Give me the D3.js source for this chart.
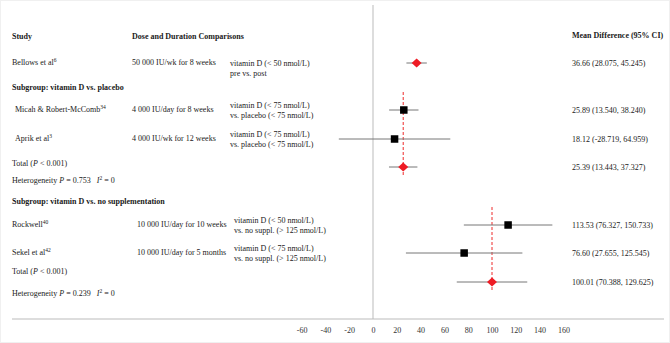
<!DOCTYPE html>
<html>
<head>
<meta charset="utf-8">
<script src="https://cdn.jsdelivr.net/npm/d3@7"></script>
<style>
  html, body { margin: 0; padding: 0; background: #fff; }
  svg { display: block; font-family: "Liberation Serif", "Times New Roman", serif; -webkit-font-smoothing: antialiased; }
  .txt { font-size: 8px; fill: #1a1a1a; }
  .bold { font-weight: bold; }
</style>
</head>
<body>
<div id="chart"></div>
<script>
// studies
var studies = ["Bellows et al", "Micah & Robert-McComb", "Aprik et al", "Rockwell", "Sekel et al"];
var refs = ["6", "34", "3", "40", "42"];
var doses = ["50 000 IU/wk for 8 weeks", "4 000 IU/day for 8 weeks", "4 000 IU/wk for 12 weeks",
  "10 000 IU/day for 10 weeks", "10 000 IU/day for 5 months"];
var compA = ["vitamin D (< 50 nmol/L)", "vitamin D (< 75 nmol/L)", "vitamin D (< 75 nmol/L)",
  "vitamin D (< 50 nmol/L)", "vitamin D (< 75 nmol/L)"];
var compB = ["pre vs. post", "vs. placebo (< 75 nmol/L)", "vs. placebo (< 75 nmol/L)",
  "vs. no suppl. (> 125 nmol/L)", "vs. no suppl. (> 125 nmol/L)"];
var means = [36.66, 25.89, 18.12, 113.53, 76.60];
var lower = [28.075, 13.540, -28.719, 76.327, 27.655];
var upper = [45.245, 38.240, 64.959, 150.733, 125.545];
var markers = ["diamond", "square", "square", "square", "square"];

// subgroups
var subgroups = ["Subgroup: vitamin D vs. placebo", "Subgroup: vitamin D vs. no supplementation"];
var totalMeans = [25.39, 100.01];
var totalLower = [13.443, 70.388];
var totalUpper = [37.327, 129.625];
var totalP = ["< 0.001", "< 0.001"];
var hetP = ["0.753", "0.239"];
var hetI2 = ["0", "0"];

var ticks = [-60, -40, -20, 0, 20, 40, 60, 80, 100, 120, 140, 160];

// layout
var W = 670, H = 343;
var studyY = [63, 110, 139, 225, 253];
var studyX = [12, 15, 15, 12, 12];
var doseX = [132, 132, 132, 137, 137];
var compX = [230, 230, 230, 234, 234];
var subY = [87, 201];
var totalY = [167, 282];
var totalTxtY = [163, 271];
var hetTxtY = [180, 293];
var sgStudies = [[1, 2], [3, 4]];
var axisY = 319;

var svg = d3.select("#chart").append("svg")
  .attr("width", W).attr("height", H);

var x = d3.scaleLinear().domain([-60, 160]).range([301.6, 563.4]);

// zero line
svg.append("line")
  .attr("x1", x(0)).attr("x2", x(0))
  .attr("y1", 5).attr("y2", axisY)
  .attr("stroke", "#bbb").attr("stroke-width", 1);

// bottom axis line
svg.append("line")
  .attr("x1", 12).attr("x2", 664)
  .attr("y1", axisY).attr("y2", axisY)
  .attr("stroke", "#bbb").attr("stroke-width", 1);

var ax = svg.append("g")
  .attr("transform", "translate(0," + axisY + ")")
  .call(d3.axisBottom(x).tickValues(ticks).tickSize(0).tickPadding(8).tickFormat(function (d) { return String(d); }));
ax.select(".domain").remove();
ax.selectAll("text")
  .attr("font-family", "Liberation Serif, serif")
  .attr("font-size", 8).attr("fill", "#333");

// headers
svg.append("text").attr("class", "txt bold").attr("x", 12).attr("y", 36).attr("dy", "0.35em").text("Study");
svg.append("text").attr("class", "txt bold").attr("x", 132).attr("y", 36).attr("dy", "0.35em").text("Dose and Duration Comparisons");
svg.append("text").attr("class", "txt bold").attr("x", 572).attr("y", 35).attr("dy", "0.35em").text("Mean Difference (95% CI)");

function fmtCI(m, l, u) {
  return m.toFixed(2) + " (" + l.toFixed(3) + ", " + u.toFixed(3) + ")";
}

// study text rows
studies.forEach(function (s, i) {
  var y = studyY[i];
  var t = svg.append("text").attr("class", "txt").attr("x", studyX[i]).attr("y", y - 1).attr("dy", "0.35em");
  t.append("tspan").text(s);
  t.append("tspan").attr("dy", "-3").attr("font-size", 5.5).text(refs[i]);

  svg.append("text").attr("class", "txt").attr("x", doseX[i]).attr("y", y - 1).attr("dy", "0.35em").text(doses[i]);
  var yA = i === 0 ? y : y - 5, yB = i === 0 ? y + 10 : y + 5;
  svg.append("text").attr("class", "txt").attr("x", compX[i]).attr("y", yA).attr("dy", "0.35em").text(compA[i]);
  svg.append("text").attr("class", "txt").attr("x", compX[i]).attr("y", yB).attr("dy", "0.35em").text(compB[i]);

  svg.append("text").attr("class", "txt").attr("x", 572).attr("y", y).attr("dy", "0.35em")
    .text(fmtCI(means[i], lower[i], upper[i]));
});

// subgroup labels, totals, heterogeneity
subgroups.forEach(function (sg, k) {
  svg.append("text").attr("class", "txt bold").attr("x", 12).attr("y", subY[k]).attr("dy", "0.35em").text(sg);

  var t = svg.append("text").attr("class", "txt").attr("x", 12).attr("y", totalTxtY[k]).attr("dy", "0.35em");
  t.append("tspan").text("Total (");
  t.append("tspan").attr("font-style", "italic").text("P");
  t.append("tspan").text(" " + totalP[k] + ")");

  var h = svg.append("text").attr("class", "txt").attr("x", 12).attr("y", hetTxtY[k]).attr("dy", "0.35em");
  h.append("tspan").text("Heterogeneity ");
  h.append("tspan").attr("font-style", "italic").text("P");
  h.append("tspan").text(" = " + hetP[k] + "\u00a0\u00a0\u00a0");
  h.append("tspan").attr("font-style", "italic").text("I");
  h.append("tspan").attr("dy", "-3").attr("font-size", 5.5).text("2");
  h.append("tspan").attr("dy", "3").text(" = " + hetI2[k]);

  svg.append("text").attr("class", "txt").attr("x", 572).attr("y", totalY[k]).attr("dy", "0.35em")
    .text(fmtCI(totalMeans[k], totalLower[k], totalUpper[k]));

  // dashed pooled line
  var first = studyY[sgStudies[k][0]];
  svg.append("line")
    .attr("x1", x(totalMeans[k])).attr("x2", x(totalMeans[k]))
    .attr("y1", first - 18).attr("y2", totalY[k] + 9)
    .attr("stroke", "#ee2a2a").attr("stroke-width", 1)
    .attr("stroke-dasharray", "3,2");
});

function diamond(g, cx, cy) {
  g.append("path")
    .attr("d", "M" + (cx - 5) + "," + cy + "L" + cx + "," + (cy - 4.5) + "L" + (cx + 5) + "," + cy + "L" + cx + "," + (cy + 4.5) + "Z")
    .attr("fill", "#ee1c25");
}

var marks = svg.append("g");
// study CI + markers
studies.forEach(function (s, i) {
  var y = studyY[i];
  marks.append("line")
    .attr("x1", x(lower[i])).attr("x2", x(upper[i]))
    .attr("y1", y).attr("y2", y)
    .attr("stroke", "#777").attr("stroke-width", 1);
  if (markers[i] === "diamond") {
    diamond(marks, x(means[i]), y);
  } else {
    marks.append("rect")
      .attr("x", x(means[i]) - 3.75).attr("y", y - 3.75)
      .attr("width", 7.5).attr("height", 7.5)
      .attr("fill", "#000");
  }
});

// pooled
totalMeans.forEach(function (m, k) {
  var y = totalY[k];
  marks.append("line")
    .attr("x1", x(totalLower[k])).attr("x2", x(totalUpper[k]))
    .attr("y1", y).attr("y2", y)
    .attr("stroke", "#777").attr("stroke-width", 1);
  diamond(marks, x(m), y);
});

// faint frame
svg.append("rect").attr("x", 0.5).attr("y", 0.5).attr("width", W - 1).attr("height", H - 1)
  .attr("fill", "none").attr("stroke", "#f0f0f0");
</script>
</body>
</html>
